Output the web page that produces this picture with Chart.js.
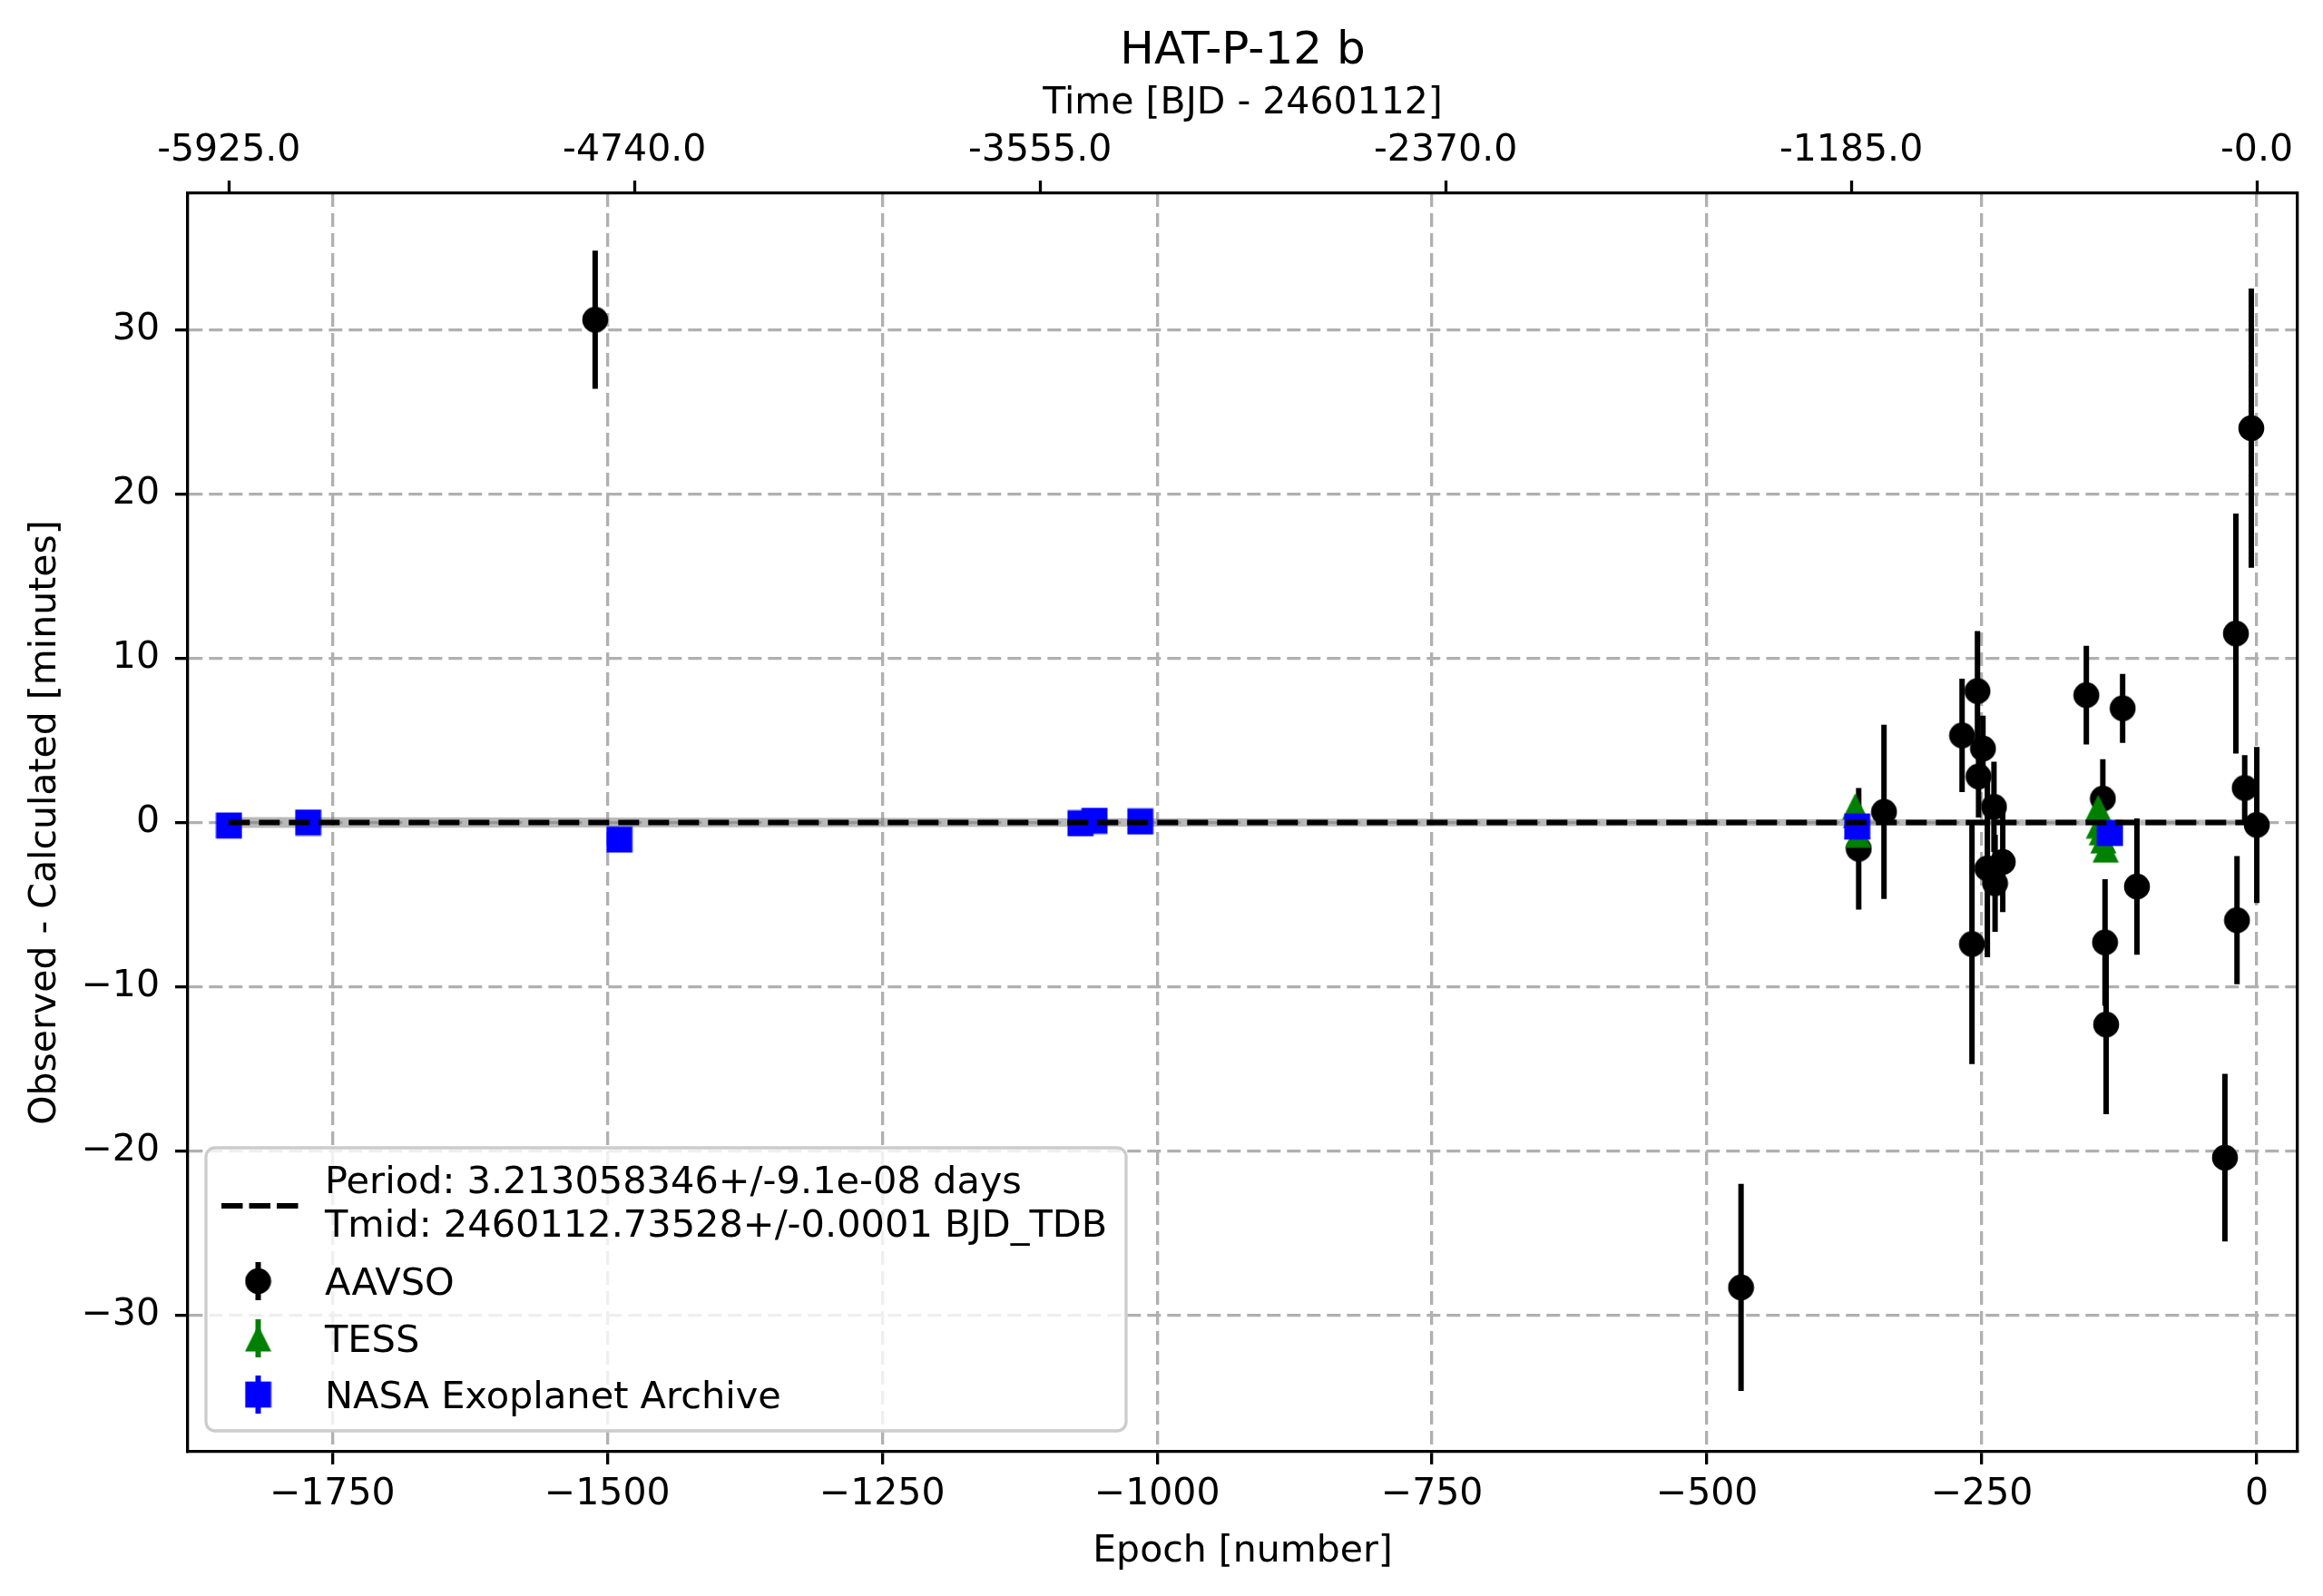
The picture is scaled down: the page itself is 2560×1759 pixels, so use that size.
<!DOCTYPE html>
<html>
<head>
    <meta charset="UTF-8">
    <title>HAT-P-12 b</title>
    <script src="https://cdn.jsdelivr.net/npm/chart.js@4.4.1/dist/chart.umd.min.js"></script>
    <style>
        html, body { margin: 0; padding: 0; background: #ffffff; }
        canvas { display: block; }
    </style>
</head>
<body>

<canvas id="ocChart" width="2560" height="1759"></canvas>

<script>
    // ---- data ----
    var period = 3.213058346;

    var aavsoEpoch = [-1511, -469, -362, -339, -268, -259, -254, -253, -249, -245, -239, -238, -231,
                      -155, -140, -138, -137, -122, -109, -29, -19, -18, -11, -5, 0];
    var aavsoOC    = [30.6, -28.3, -1.6, 0.65, 5.3, -7.4, 8.0, 2.8, 4.5, -2.8, 0.95, -3.7, -2.4,
                      7.75, 1.45, -7.3, -12.3, 6.95, -3.9, -20.4, 11.5, -5.95, 2.1, 24.0, -0.15];
    var aavsoErr   = [4.2, 6.3, 3.7, 5.3, 3.45, 7.3, 3.65, 2.5, 2.0, 5.4, 2.75, 2.95, 3.05,
                      3.0, 2.4, 3.85, 5.45, 2.1, 4.15, 5.1, 7.3, 3.9, 2.0, 8.5, 4.75];

    var tessEpoch = [-365.2, -364.5, -363.5, -362.5, -144.2, -143.5, -141, -139.5, -137.4];
    var tessOC    = [0.98, 0.45, -0.2, -0.73, 0.89, -0.17, -0.6, -1.09, -1.64];
    var tessErr   = [0.35, 0.35, 0.35, 0.35, 0.35, 0.35, 0.35, 0.35, 0.35];

    var nasaEpoch = [-1844, -1772, -1489, -1069.7, -1056.9, -1015.3, -363.4, -133.4];
    var nasaOC    = [-0.18, 0.0, -1.04, -0.05, 0.11, 0.06, -0.24, -0.64];
    var nasaErr   = [0.2, 0.2, 0.25, 0.15, 0.15, 0.15, 0.2, 0.2];

    // linear ephemeris and its uncertainty band
    var modelEpoch = [-1844, 0];
    var modelOC    = [0, 0];
    var bandUpper  = [0.33, 0.16];
    var bandLower  = [-0.33, -0.16];

    // ticks
    var xTicks = [-1750, -1500, -1250, -1000, -750, -500, -250, 0];
    var yTicks = [-30, -20, -10, 0, 10, 20, 30];
    var topTicks = [-5925, -4740, -3555, -2370, -1185, 0];
    var topTickLabels = ['-5925.0', '-4740.0', '-3555.0', '-2370.0', '-1185.0', '-0.0'];

    var legendLabels = ['Period: 3.213058346+/-9.1e-08 days', 'Tmid: 2460112.73528+/-0.0001 BJD_TDB',
                        'AAVSO', 'TESS', 'NASA Exoplanet Archive'];

    // axis limits
    var xMin = -1881.4, xMax = 37.1;
    var yMin = -38.3, yMax = 38.3;

    var FONT = "'DejaVu Sans'";
    var LW = 3.3;       // 0.8pt spines / grid
    var ELW = 6;        // 1.5pt error bars / lines

    // ---- helpers ----
    function pts(xs, ys) {
        return xs.map(function (x, i) { return {x: x, y: ys[i]}; });
    }

    // vertical error bars as line segments separated by gaps
    function errSegments(xs, ys, es) {
        var out = [];
        for (var i = 0; i < xs.length; i++) {
            out.push({x: xs[i], y: ys[i] - es[i]});
            out.push({x: xs[i], y: ys[i] + es[i]});
            out.push({x: xs[i], y: null});
        }
        return out;
    }

    function makeMarker(shape, color) {
        var c = document.createElement('canvas');
        c.width = 30; c.height = 30;
        var g = c.getContext('2d');
        g.fillStyle = color;
        g.beginPath();
        if (shape === 'circle') {
            g.arc(15, 15, 14.3, 0, Math.PI * 2);
        } else if (shape === 'square') {
            g.rect(0.65, 0.65, 28.7, 28.7);
        } else {
            g.moveTo(15, 0.4);
            g.lineTo(29.5, 29.4);
            g.lineTo(0.5, 29.4);
            g.closePath();
        }
        g.fill();
        return c;
    }

    var circleMk = makeMarker('circle', '#000000');
    var triMk = makeMarker('triangle', '#008000');
    var squareMk = makeMarker('square', '#0000ff');

    function minusFmt(v) {
        return v < 0 ? '\u2212' + Math.abs(v) : String(v);
    }

    function setTicks(list) {
        return function (scale) {
            scale.ticks = list.map(function (v) { return {value: v}; });
        };
    }

    // matplotlib style legend in the lower left corner
    var legendPlugin = {
        id: 'mplLegend',
        afterDraw: function (chart) {
            var ctx = chart.ctx;
            var area = chart.chartArea;
            var bx = area.left + 20, by = area.bottom - 335, bw = 1014, bh = 312, r = 10;

            ctx.save();
            ctx.beginPath();
            ctx.moveTo(bx + r, by);
            ctx.lineTo(bx + bw - r, by);
            ctx.arcTo(bx + bw, by, bx + bw, by + r, r);
            ctx.lineTo(bx + bw, by + bh - r);
            ctx.arcTo(bx + bw, by + bh, bx + bw - r, by + bh, r);
            ctx.lineTo(bx + r, by + bh);
            ctx.arcTo(bx, by + bh, bx, by + bh - r, r);
            ctx.lineTo(bx, by + r);
            ctx.arcTo(bx, by, bx + r, by, r);
            ctx.closePath();
            ctx.fillStyle = 'rgba(255,255,255,0.8)';
            ctx.fill();
            ctx.lineWidth = LW;
            ctx.strokeStyle = '#cccccc';
            ctx.stroke();

            var hx = bx + 57.5;      // handle centre
            // dashed line handle
            ctx.beginPath();
            ctx.setLineDash([23.5, 7]);
            ctx.lineWidth = ELW;
            ctx.strokeStyle = '#000000';
            ctx.moveTo(hx - 40.5, by + 64);
            ctx.lineTo(hx + 44, by + 64);
            ctx.stroke();
            ctx.setLineDash([]);

            var rows = [
                {y: by + 147, mk: circleMk, col: '#000000'},
                {y: by + 210, mk: triMk, col: '#008000'},
                {y: by + 272, mk: squareMk, col: '#0000ff'}
            ];
            rows.forEach(function (row) {
                ctx.beginPath();
                ctx.lineWidth = ELW;
                ctx.strokeStyle = row.col;
                ctx.moveTo(hx, row.y - 21);
                ctx.lineTo(hx, row.y + 21);
                ctx.stroke();
                ctx.drawImage(row.mk, hx - 15, row.y - 15);
            });

            ctx.fillStyle = '#000000';
            ctx.font = '41.5px ' + FONT;
            ctx.textAlign = 'left';
            ctx.textBaseline = 'alphabetic';
            var tx = bx + 131;
            var baselines = [by + 50, by + 98, by + 162, by + 225, by + 287];
            legendLabels.forEach(function (t, i) {
                ctx.fillText(t, tx, baselines[i]);
            });
            ctx.restore();
        }
    };

    var ctx = document.getElementById('ocChart').getContext('2d');
    var ocChart = new Chart(ctx, {
        type: 'scatter',
        data: {
            datasets: [
                {   // uncertainty band (upper edge fills down to lower edge)
                    data: pts(modelEpoch, bandUpper),
                    showLine: true, fill: '+1', pointRadius: 0, borderWidth: 0,
                    backgroundColor: 'rgba(128,128,128,0.55)', order: 12
                },
                {
                    data: pts(modelEpoch, bandLower),
                    showLine: true, fill: false, pointRadius: 0, borderWidth: 0, order: 11
                },
                {
                    data: errSegments(aavsoEpoch, aavsoOC, aavsoErr),
                    showLine: true, spanGaps: false, pointRadius: 0, borderWidth: ELW,
                    borderColor: '#000000', borderCapStyle: 'butt', order: 9
                },
                {
                    data: pts(aavsoEpoch, aavsoOC),
                    pointStyle: circleMk, pointRadius: 14, order: 8
                },
                {
                    data: errSegments(tessEpoch, tessOC, tessErr),
                    showLine: true, spanGaps: false, pointRadius: 0, borderWidth: ELW,
                    borderColor: '#008000', borderCapStyle: 'butt', order: 7
                },
                {
                    data: pts(tessEpoch, tessOC),
                    pointStyle: triMk, pointRadius: 14, order: 6
                },
                {
                    data: errSegments(nasaEpoch, nasaOC, nasaErr),
                    showLine: true, spanGaps: false, pointRadius: 0, borderWidth: ELW,
                    borderColor: '#0000ff', borderCapStyle: 'butt', order: 5
                },
                {
                    data: pts(nasaEpoch, nasaOC),
                    pointStyle: squareMk, pointRadius: 14, order: 4
                },
                {   // period line
                    data: pts(modelEpoch, modelOC),
                    showLine: true, pointRadius: 0, borderWidth: ELW, borderColor: '#000000',
                    borderDash: [23, 10], borderCapStyle: 'butt', order: 1
                }
            ]
        },
        options: {
            responsive: false,
            animation: false,
            layout: {padding: 0},
            plugins: {
                legend: {display: false},
                tooltip: {enabled: false},
                title: {
                    display: true,
                    text: 'HAT-P-12 b',
                    color: '#000000',
                    fullSize: false,
                    font: {family: FONT, size: 50, weight: 'normal'},
                    padding: {top: 27, bottom: 0}
                }
            },
            scales: {
                x: {
                    type: 'linear', position: 'bottom', min: xMin, max: xMax,
                    afterBuildTicks: setTicks(xTicks),
                    afterFit: function (s) { s.height = 159; },
                    ticks: {
                        callback: function (v) { return minusFmt(v); },
                        color: '#000000', font: {family: FONT, size: 41}, padding: 9,
                        maxRotation: 0, autoSkip: false
                    },
                    grid: {
                        color: '#b0b0b0', lineWidth: LW, tickLength: 14,
                        tickColor: '#000000', tickWidth: LW
                    },
                    border: {display: true, color: '#000000', width: LW, dash: [15, 7]},
                    title: {
                        display: true, text: 'Epoch [number]', color: '#000000',
                        font: {family: FONT, size: 41}, padding: {top: 0, bottom: 24}
                    }
                },
                x2: {
                    type: 'linear', position: 'top', min: xMin * period, max: xMax * period,
                    afterBuildTicks: setTicks(topTicks),
                    afterFit: function (s) { s.height = 126; },
                    ticks: {
                        callback: function (v, i) { return topTickLabels[i]; },
                        color: '#000000', font: {family: FONT, size: 41}, padding: 8,
                        maxRotation: 0, autoSkip: false
                    },
                    grid: {
                        drawOnChartArea: false, tickLength: 14,
                        tickColor: '#000000', tickWidth: LW
                    },
                    border: {display: true, color: '#000000', width: LW},
                    title: {
                        display: true, text: 'Time [BJD - 2460112]', color: '#000000',
                        font: {family: FONT, size: 41}, padding: {top: 3, bottom: 0}
                    }
                },
                y: {
                    type: 'linear', position: 'left', min: yMin, max: yMax,
                    afterBuildTicks: setTicks(yTicks),
                    afterFit: function (s) { s.width = 207; },
                    ticks: {
                        callback: function (v) { return minusFmt(v); },
                        color: '#000000', font: {family: FONT, size: 41}, padding: 17
                    },
                    grid: {
                        color: '#b0b0b0', lineWidth: LW, tickLength: 14,
                        tickColor: '#000000', tickWidth: LW
                    },
                    border: {display: true, color: '#000000', width: LW, dash: [15, 7]},
                    title: {
                        display: true, text: 'Observed - Calculated [minutes]', color: '#000000',
                        font: {family: FONT, size: 41}, padding: {top: 26, bottom: 0}
                    }
                },
                y2: {
                    type: 'linear', position: 'right', min: yMin, max: yMax,
                    afterFit: function (s) { s.width = 28; },
                    ticks: {display: false},
                    grid: {display: false},
                    border: {display: true, color: '#000000', width: LW}
                }
            }
        },
        plugins: [legendPlugin]
    });
</script>

</body>
</html>
